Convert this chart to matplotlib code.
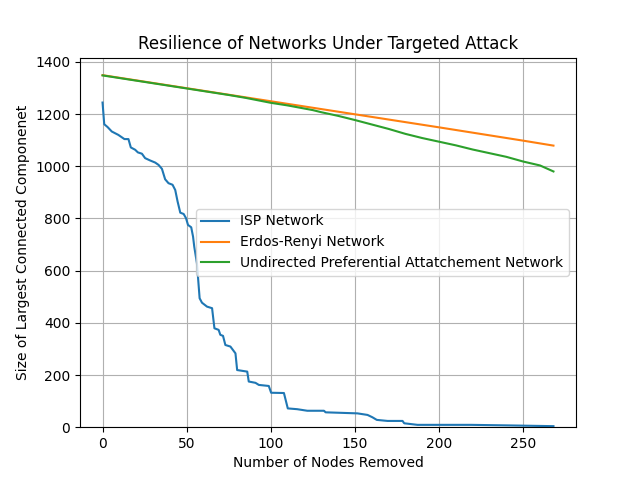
import matplotlib
matplotlib.use("Agg")
import matplotlib.pyplot as plt

isp_x = [0, 1, 3, 5.5, 9.4, 13, 15.4, 16.8, 19.4, 21, 23.4, 25.3, 28.3, 31.3, 33.3, 35.3,
         37.2, 39.2, 41.6, 43.2, 44.6, 46.2, 48.2, 49.6, 50.8, 52.7, 53.8, 54.5, 56.1,
         57.7, 59.1, 62.1, 65.1, 66.5, 69, 70, 71.6, 73, 76, 79, 80, 86, 86.9, 90.9,
         92.9, 98.8, 100.2, 107.8, 110.1, 115.7, 121.7, 131.6, 132.6, 151.5, 157.5,
         160.4, 163, 169.4, 178.3, 179.3, 187.2, 219, 240, 268]
isp_y = [1244, 1161, 1150, 1133, 1120, 1104, 1104, 1072, 1063, 1053, 1048, 1031, 1022,
         1014, 1005, 990, 950, 935, 929, 909, 865, 822, 817, 801, 775, 766, 730, 692,
         628, 494, 477, 462, 456, 379, 373, 354, 350, 315, 309, 283, 219, 213, 175,
         170, 162, 158, 132, 131, 72, 69, 63, 63, 57, 53, 47, 38, 28, 24, 24, 15, 9,
         9, 7, 4]

er_x = [0, 50, 100, 150, 200, 250, 268]
er_y = [1349, 1299, 1249, 1199, 1149, 1098, 1079]

pa_x = [0, 25, 50, 75, 85, 100, 110, 125, 130, 140, 150, 160, 170, 180, 190, 200,
        210, 220, 230, 240, 250, 260, 268]
pa_y = [1348, 1323, 1298, 1273, 1262, 1243, 1233, 1215, 1207, 1193, 1177, 1160, 1143,
        1124, 1108, 1094, 1080, 1064, 1050, 1036, 1018, 1003, 980]

labels = ["ISP Network", "Erdos-Renyi Network", "Undirected Preferential Attatchement Network"]

fig, ax = plt.subplots(figsize=(6.4, 4.8), dpi=100)
ax.plot(isp_x, isp_y, label=labels[0])
ax.plot(er_x, er_y, label=labels[1])
ax.plot(pa_x, pa_y, label=labels[2])
ax.set_ylim(bottom=0)
ax.grid(True)
ax.set_title("Resilience of Networks Under Targeted Attack")
ax.set_xlabel("Number of Nodes Removed")
ax.set_ylabel("Size of Largest Connected Componenet")
ax.legend(loc="center right")
fig.savefig("out.png", dpi=100)
